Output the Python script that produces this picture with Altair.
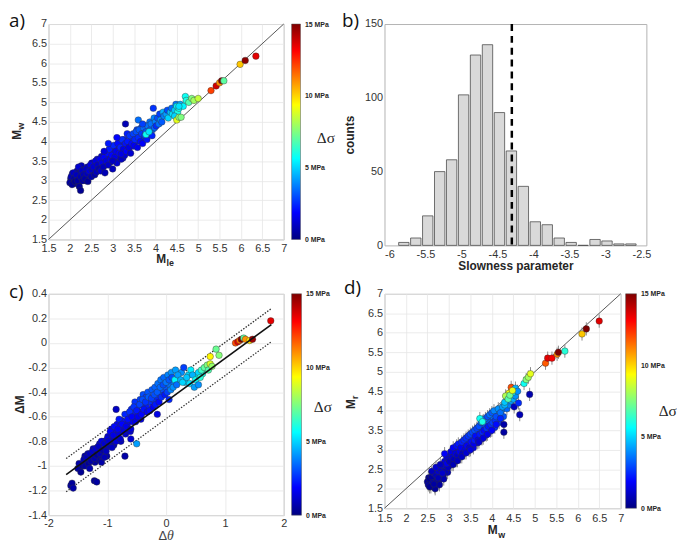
import altair as alt
import pandas as pd

# ---------------- shared style values ----------------
FONT = "Liberation Sans"
JET_DOMAIN = [0, 1.875, 5.625, 9.375, 13.125, 15]
JET_OFFSETS = [0, 0.125, 0.375, 0.625, 0.875, 1]
JET_RANGE = ["#00007f", "#0000ff", "#00ffff", "#ffff00", "#ff0000", "#7f0000"]
cbar_lo, cbar_hi = 0, 15
cbar_ticks = [0, 5, 10, 15]
mag_ticks = [1.5, 2, 2.5, 3, 3.5, 4, 4.5, 5, 5.5, 6, 6.5, 7]
diag = [1.5, 7]

# ---------------- panel a data: M_le vs M_w ----------------
a_mle = [2.02, 2.06, 2.09, 2.13, 2.17, 2.21, 2.24, 2.27, 2.31, 2.34, 2.37, 2.41, 2.44, 2.47, 2.51,
         2.54, 2.57, 2.61, 2.64, 2.67, 2.71, 2.74, 2.77, 2.81, 2.84, 2.87, 2.91, 2.94, 2.97, 3.01,
         3.04, 3.07, 3.11, 3.14, 3.17, 3.21, 3.24, 3.27, 3.31, 3.34, 3.37, 3.41, 3.44, 3.47, 3.51,
         3.54, 3.57, 3.63, 3.67, 3.73, 3.77, 3.83, 3.87, 3.93, 3.97,
         2.00, 2.03, 2.05, 2.08, 2.10, 2.12, 2.15, 2.18, 2.20, 2.22, 2.25, 2.25, 2.28, 2.30, 2.32,
         2.35, 2.38, 2.40, 2.42, 2.45, 2.48, 2.50, 2.52, 2.55, 2.58, 2.60, 2.62, 2.65, 2.68, 2.70,
         2.72, 2.75, 2.78, 2.80, 2.82, 2.85, 2.88, 2.90, 2.92, 2.95, 2.98, 3.00, 3.02, 3.05, 3.08,
         3.10, 3.12, 3.15, 3.18, 3.20, 3.22, 3.25, 3.28, 3.30, 2.80, 2.90, 3.00, 3.10, 3.20, 3.30,
         3.32, 3.35, 3.38, 3.40, 3.42, 3.45, 3.48, 3.50, 3.52, 3.55, 3.58, 3.60, 3.62, 3.65, 3.68,
         3.70, 3.72, 3.75, 3.78, 3.80, 3.82, 3.85, 3.88, 3.90, 3.92, 3.95, 3.98, 4.00, 3.60, 3.70,
         4.02, 4.05, 4.08, 4.10, 4.12, 4.15, 4.18, 4.20, 4.25, 4.28, 4.30, 4.35, 4.38, 4.40, 4.45,
         4.48, 4.50, 4.52, 4.55, 4.58, 3.78, 3.85, 4.45,
         4.50, 4.55, 4.60, 4.65, 4.70, 4.72, 4.78, 4.85, 4.90, 5.00, 4.55,
         5.30, 5.42, 5.50, 5.55, 5.60, 5.98, 6.10, 6.35]
a_mw = [3.05, 3.18, 2.92, 3.08, 3.25, 2.95, 3.20, 3.38, 3.12, 3.28, 3.00, 3.35, 3.15, 3.30, 3.45,
        3.22, 3.40, 3.30, 3.55, 3.42, 3.48, 3.62, 3.52, 3.68, 3.40, 3.58, 3.75, 3.48, 3.82, 3.70,
        3.52, 3.90, 3.78, 3.62, 3.98, 3.88, 3.58, 4.05, 3.85, 4.20, 3.78, 3.98, 4.08, 3.88, 4.12,
        4.00, 4.30, 4.12, 4.35, 4.08, 4.40, 4.18, 4.50, 4.30, 4.60,
        2.95, 3.10, 2.90, 3.20, 3.05, 2.98, 3.15, 3.00, 3.35, 2.85, 2.75, 3.10, 3.25, 3.00, 3.15,
        3.05, 3.30, 3.18, 2.98, 3.25, 3.40, 3.10, 3.28, 3.35, 3.15, 3.50, 3.22, 3.40, 3.30, 3.55,
        3.25, 3.45, 3.35, 3.60, 3.20, 3.50, 3.70, 3.40, 3.80, 3.55, 3.65, 3.30, 3.90, 3.60, 3.75,
        3.45, 3.95, 3.70, 3.85, 3.55, 4.05, 3.80, 3.65, 3.95, 3.75, 3.95, 3.50, 4.10, 3.68, 4.45,
        3.75, 4.00, 3.85, 4.15, 3.70, 3.95, 4.20, 3.90, 4.05, 4.25, 3.85, 4.10, 4.30, 4.00, 4.20,
        3.95, 4.35, 4.15, 4.25, 4.05, 4.40, 4.20, 4.30, 4.45, 4.15, 4.85, 4.35, 4.50, 4.55, 4.45,
        4.40, 4.60, 4.45, 4.70, 4.55, 4.50, 4.75, 4.65, 4.70, 4.80, 4.60, 4.75, 4.85, 4.70, 4.80,
        4.95, 4.90, 4.75, 4.85, 4.95, 4.18, 4.25, 4.65,
        4.55, 4.62, 4.62, 4.90, 5.15, 5.05, 5.00, 5.10, 5.05, 5.10, 4.90,
        5.30, 5.42, 5.50, 5.55, 5.55, 5.97, 6.07, 6.18]
a_ds = [0.4, 0.6, 0.3, 0.5, 0.7, 0.4, 0.6, 0.9, 0.5, 0.8, 0.4, 1.0, 0.6, 0.9, 1.1,
        0.7, 1.2, 0.9, 1.3, 1.0, 1.1, 1.4, 1.2, 1.6, 1.0, 1.5, 1.8, 1.2, 1.9, 1.7,
        1.3, 2.0, 1.8, 1.5, 2.1, 2.0, 1.4, 2.2, 1.9, 2.3, 1.7, 2.4, 2.5, 2.0, 2.6,
        2.3, 2.8, 2.5, 3.0, 2.6, 3.2, 2.9, 3.5, 3.2, 3.8,
        0.5, 0.8, 0.4, 1.0, 0.6, 0.3, 0.9, 0.5, 1.2, 0.4, 0.3, 0.7, 1.0, 0.5, 0.8,
        0.6, 1.1, 0.9, 0.4, 1.3, 1.5, 0.7, 1.0, 1.2, 0.6, 1.4, 0.9, 1.1, 0.8, 1.6,
        1.2, 1.5, 0.9, 1.8, 0.8, 1.4, 2.0, 1.1, 2.2, 1.6, 1.9, 0.9, 2.4, 1.5, 1.7,
        1.2, 2.0, 1.8, 2.3, 1.0, 2.5, 1.6, 1.3, 2.1, 1.4, 2.2, 1.0, 1.9, 1.5, 0.8,
        1.8, 2.2, 1.5, 2.6, 1.2, 2.0, 2.8, 1.7, 2.4, 3.0, 1.6, 2.5, 3.2, 2.0, 2.7,
        1.8, 3.4, 2.6, 3.0, 2.2, 3.5, 2.9, 3.1, 3.6, 2.4, 2.6, 3.3, 3.8, 3.5, 2.8,
        2.5, 3.0, 3.5, 2.8, 4.0, 3.2, 4.5, 3.8, 4.2, 3.0, 5.0, 4.6, 3.5, 5.2, 4.8,
        3.6, 5.5, 6.0, 5.8, 4.4, 5.8, 5.2, 5.0,
        9.0, 7.8, 7.5, 5.5, 5.8, 6.0, 6.8, 7.5, 8.0, 8.5, 5.2,
        12.2, 13.8, 11.0, 15.0, 7.0, 10.2, 14.8, 13.5]

# ---------------- panel b data: histogram ----------------
b_centers = [-5.80, -5.634, -5.468, -5.302, -5.136, -4.97, -4.804, -4.638, -4.472, -4.306,
             -4.14, -3.974, -3.808, -3.642, -3.476, -3.31, -3.144, -2.978, -2.812, -2.646]
b_counts = [2, 5, 20, 50, 58, 102, 129, 136, 90, 64, 40, 16, 14, 5, 2, 0, 4, 3, 1, 1]
b_mean = -4.30
b_xticks = [-6, -5.5, -5, -4.5, -4, -3.5, -3, -2.5]
b_yticks = [0, 50, 100, 150]

# ---------------- panel c data: dtheta vs dM ----------------
c_dt = [-1.50, -1.48, -1.42, -1.38, -1.36, -1.33, -1.27, -1.24, -1.21, -1.17, -1.14, -1.13, -1.09,
        -1.07, -1.04, -1.01, -0.99, -0.97, -0.94, -0.93, -0.91, -0.89, -0.87, -0.84, -0.83, -0.81,
        -0.79, -0.77, -0.76, -0.74, -0.71, -0.69, -0.67, -0.66, -0.63, -0.61, -0.59, -0.57, -0.54,
        -0.53, -0.51, -0.49, -0.47, -0.44, -0.43, -0.41, -0.39, -0.37, -0.34, -0.33, -0.31, -0.27,
        -0.24, -0.21, -0.19, -0.16, -0.14, -0.11, -0.09, -0.06, -0.04, -0.01, 0.03, 0.06, 0.09,
        0.13, 0.16, 0.22, 0.26, 0.32, 0.38, 0.42, 0.52, 0.62,
        -1.62, -1.60, -1.58, -1.45, -1.40, -1.38, -1.35, -1.32, -1.30, -1.28, -1.25, -1.22, -1.20,
        -1.18, -1.15, -1.12, -1.10, -1.08, -1.05, -1.02, -1.00, -1.22, -1.18, -1.30, -1.10, -1.05,
        -0.98, -0.95, -0.92, -0.90, -0.88, -0.85, -0.82, -0.80, -0.78, -0.75, -0.72, -0.70, -0.68,
        -0.65, -0.62, -0.60, -0.58, -0.55, -0.52, -0.50, -0.48, -0.45, -0.42, -0.40, -0.38, -0.35,
        -0.32, -0.30, -0.70, -0.50, -0.85, -0.60,
        -0.28, -0.25, -0.22, -0.20, -0.18, -0.15, -0.12, -0.10, -0.08, -0.05, -0.02, 0.00, 0.02,
        0.05, 0.08, 0.10, 0.12, 0.15, 0.18, 0.20, 0.25, 0.30, 0.28, -0.15, 0.05,
        0.35, 0.40, 0.45, 0.50, 0.55, 0.58, 0.60, 0.65, 0.70, 0.72, 0.75, 0.75, 0.78, 0.85, 0.90,
        0.48, 0.55,
        1.18, 1.22, 1.25, 1.28, 1.32, 1.35, 1.42, 1.47, 1.78]
c_dm = [-1.02, -0.98, -1.00, -0.92, -0.97, -0.90, -0.92, -0.86, -0.97, -0.85, -0.95, -0.82, -0.92,
        -0.80, -0.86, -0.92, -0.76, -0.84, -0.80, -0.70, -0.78, -0.83, -0.72, -0.76, -0.66, -0.74,
        -0.68, -0.80, -0.63, -0.70, -0.64, -0.74, -0.58, -0.66, -0.60, -0.72, -0.54, -0.64, -0.58,
        -0.48, -0.62, -0.52, -0.56, -0.46, -0.62, -0.50, -0.42, -0.56, -0.44, -0.52, -0.40, -0.48,
        -0.38, -0.46, -0.36, -0.44, -0.33, -0.42, -0.30, -0.38, -0.28, -0.36, -0.26, -0.34, -0.24,
        -0.32, -0.22, -0.30, -0.24, -0.32, -0.26, -0.22, -0.26, -0.25,
        -1.16, -1.14, -1.18, -1.05, -0.95, -1.00, -0.93, -0.98, -0.90, -0.96, -0.88, -0.94, -0.86,
        -0.91, -0.84, -0.90, -0.80, -0.87, -0.82, -0.88, -0.78, -1.12, -1.13, -1.02, -0.97, -0.93,
        -0.80, -0.72, -0.85, -0.75, -0.68, -0.80, -0.70, -0.62, -0.78, -0.66, -0.72, -0.58, -0.68,
        -0.62, -0.56, -0.70, -0.60, -0.52, -0.64, -0.55, -0.60, -0.50, -0.58, -0.46, -0.54, -0.48,
        -0.56, -0.44, -0.92, -0.82, -0.54, -0.78,
        -0.55, -0.45, -0.52, -0.42, -0.50, -0.40, -0.48, -0.36, -0.44, -0.34, -0.42, -0.32, -0.40,
        -0.30, -0.38, -0.28, -0.36, -0.30, -0.34, -0.26, -0.30, -0.20, -0.32, -0.58, -0.46,
        -0.28, -0.33, -0.26, -0.30, -0.24, -0.28, -0.22, -0.20, -0.18, -0.22, -0.17, -0.11, -0.19,
        -0.05, -0.10, -0.36, -0.34,
        0.00, 0.01, 0.02, 0.03, 0.04, 0.03, 0.02, 0.03, 0.18]
c_ds = [0.5, 0.6, 0.4, 0.7, 0.5, 0.8, 0.6, 0.9, 0.5, 1.0, 0.6, 1.1, 0.7,
        1.2, 0.9, 0.6, 1.3, 1.0, 1.4, 1.5, 1.1, 0.8, 1.6, 1.2, 1.8, 1.4,
        1.9, 1.0, 2.0, 1.5, 2.1, 1.2, 2.2, 1.6, 2.3, 1.3, 2.4, 1.8, 2.2,
        2.6, 1.7, 2.5, 2.0, 2.8, 1.5, 2.4, 3.0, 1.9, 2.7, 2.2, 3.1, 2.5,
        3.2, 2.6, 3.3, 2.4, 3.5, 2.8, 3.6, 3.0, 3.4, 3.2, 3.8, 3.5, 4.0,
        3.6, 4.2, 4.4, 4.0, 4.6, 5.0, 5.4, 5.6, 6.0,
        0.5, 0.4, 0.6, 0.3, 0.8, 0.5, 0.9, 0.4, 1.0, 0.6, 1.1, 0.7, 1.2,
        0.5, 1.0, 0.8, 1.4, 0.6, 1.2, 0.9, 1.5, 0.4, 0.5, 0.7, 0.6, 0.8,
        1.2, 1.8, 1.0, 1.5, 2.0, 1.3, 1.7, 2.2, 1.1, 1.9, 1.4, 2.4, 1.6,
        2.0, 2.5, 1.3, 1.8, 2.6, 1.5, 2.2, 1.7, 2.8, 1.9, 3.0, 2.1, 2.6,
        1.8, 3.2, 0.6, 4.2, 1.0, 1.2,
        2.0, 2.8, 1.8, 3.0, 2.2, 3.2, 2.0, 3.4, 2.5, 3.0, 2.2, 3.6, 2.8,
        3.2, 3.8, 3.0, 4.0, 5.5, 3.5, 4.2, 4.5, 2.8, 5.0, 1.5, 2.4,
        4.8, 5.2, 4.5, 5.8, 5.0, 6.2, 6.5, 7.0, 7.5, 6.8, 8.8, 9.5, 7.8,
        7.2, 7.6, 4.2, 4.0,
        12.0, 13.5, 11.5, 15.0, 7.0, 11.0, 9.8, 14.5, 13.5]
c_fit_x = [-1.70, 1.79]
c_fit_y = [-1.07, 0.15]
c_upper_y = [-0.94, 0.28]
c_lower_y = [-1.21, 0.01]
c_xticks = [-2, -1, 0, 1, 2]
c_yticks = [-1.4, -1.2, -1.0, -0.8, -0.6, -0.4, -0.2, 0, 0.2, 0.4]

# ---------------- panel d data: M_w vs M_r ----------------
d_mw = [2.53, 2.57, 2.63, 2.67, 2.73, 2.77, 2.83, 2.87, 2.93, 2.97, 3.03, 3.07, 3.13, 3.17, 3.23,
        3.27, 3.33, 3.37, 3.43, 3.47, 3.53, 3.57, 3.63, 3.67, 3.73, 3.77, 3.83, 3.87, 3.93, 3.97,
        4.03, 4.07, 4.13, 4.17, 4.23, 4.27, 4.35, 4.40, 4.45, 4.50, 4.55,
        2.50, 2.52, 2.55, 2.58, 2.60, 2.62, 2.65, 2.68, 2.70, 2.72, 2.75, 2.78, 2.80, 2.82, 2.85,
        2.88, 2.90, 2.92, 2.95, 2.98, 2.55, 2.65, 2.75, 2.85, 2.95, 2.60, 2.70, 2.80, 2.90, 3.00,
        3.02, 3.05, 3.08, 3.10, 3.12, 3.15, 3.18, 3.20, 3.22, 3.25, 3.28, 3.30, 3.32, 3.35, 3.38,
        3.40, 3.42, 3.45, 3.48, 3.50, 3.52, 3.55, 3.58, 3.60, 3.10, 3.20, 3.30, 3.40, 3.50, 3.60,
        3.62, 3.65, 3.68, 3.70, 3.72, 3.75, 3.78, 3.80, 3.82, 3.85, 3.88, 3.90, 3.92, 3.95, 3.98,
        4.00, 4.02, 4.05, 4.08, 4.10, 4.15, 4.20, 4.25, 4.30, 3.70, 3.80, 3.90, 4.00, 4.10, 4.20,
        4.28, 4.28, 4.65, 4.88, 4.52, 4.62,
        3.72, 3.78, 4.30, 4.35, 4.40, 4.45, 4.50, 4.55, 4.60, 4.32, 4.38, 4.42, 4.48, 4.75, 4.80,
        4.85, 4.90, 5.70,
        5.25, 5.30, 5.40, 5.52, 5.55, 6.10, 6.20, 6.50]
d_mr = [2.28, 2.12, 2.28, 2.05, 2.38, 2.22, 2.52, 2.35, 2.62, 2.42, 2.85, 2.62, 2.95, 2.72, 3.05,
        2.82, 3.12, 2.92, 3.22, 2.98, 3.30, 3.05, 3.45, 3.18, 3.52, 3.28, 3.62, 3.38, 3.72, 3.48,
        3.82, 3.58, 3.92, 3.70, 4.02, 3.85, 4.05, 4.15, 4.25, 4.30, 4.38,
        2.18, 2.10, 2.25, 2.05, 2.30, 2.15, 2.40, 2.00, 2.35, 2.20, 2.45, 2.10, 2.50, 2.30, 2.60,
        2.25, 2.70, 2.45, 2.80, 2.55, 2.05, 2.12, 2.28, 2.40, 2.65, 2.45, 2.55, 2.62, 2.90, 2.75,
        2.70, 2.95, 2.80, 3.05, 2.75, 2.90, 3.10, 2.85, 3.15, 2.95, 3.05, 3.20, 2.90, 3.25, 3.00,
        3.30, 3.10, 3.35, 3.05, 3.40, 3.20, 3.45, 3.15, 3.50, 2.62, 2.72, 2.82, 2.92, 3.00, 3.25,
        3.35, 3.55, 3.25, 3.60, 3.40, 3.70, 3.45, 3.75, 3.50, 3.80, 3.55, 3.85, 3.60, 3.90, 3.65,
        3.95, 3.70, 4.00, 3.75, 3.85, 4.05, 3.95, 4.10, 4.15, 3.20, 3.30, 3.40, 3.50, 3.65, 3.80,
        3.45, 3.65, 3.90, 4.42, 4.10, 4.20,
        3.80, 3.72, 4.22, 4.35, 4.45, 4.60, 4.48, 4.58, 4.50, 4.38, 4.30, 4.40, 4.52, 4.70, 4.80,
        4.86, 4.95, 5.53,
        5.22, 5.35, 5.35, 5.45, 5.50, 5.97, 6.10, 6.30]
d_ds = [0.5, 0.4, 0.6, 0.4, 0.8, 0.6, 1.0, 0.7, 1.2, 0.9, 1.4, 1.0, 1.6, 1.1, 1.8,
        1.2, 2.0, 1.4, 2.2, 1.5, 2.4, 1.6, 2.6, 1.8, 2.8, 2.0, 3.0, 2.2, 3.2, 2.4,
        3.4, 2.5, 3.6, 2.7, 3.8, 3.0, 3.4, 3.8, 4.2, 4.4, 4.0,
        0.4, 0.6, 0.3, 0.8, 0.5, 0.7, 1.0, 0.4, 0.9, 0.6, 1.2, 0.5, 1.1, 0.8, 1.3,
        0.7, 1.5, 0.9, 1.4, 1.0, 0.3, 0.5, 0.8, 1.1, 1.6, 0.9, 1.2, 1.0, 1.8, 1.3,
        1.0, 1.5, 1.2, 1.8, 0.9, 1.4, 2.0, 1.1, 2.2, 1.6, 1.7, 2.3, 1.0, 2.4, 1.5,
        2.5, 1.8, 2.6, 1.3, 2.8, 2.0, 2.9, 1.6, 3.0, 0.8, 0.9, 1.0, 1.2, 1.4, 2.2,
        2.0, 2.8, 1.5, 3.0, 2.2, 3.2, 2.4, 3.6, 2.0, 3.4, 2.6, 3.0, 2.2, 3.5, 2.5,
        3.2, 2.8, 3.8, 2.6, 3.0, 4.0, 3.5, 4.2, 4.5, 1.2, 1.4, 1.6, 1.8, 2.0, 2.4,
        0.5, 0.6, 0.8, 0.7, 1.0, 2.5,
        5.8, 6.0, 4.8, 7.5, 9.2, 12.0, 5.5, 4.5, 4.0, 8.2, 6.8, 7.2, 9.0, 5.8, 7.5,
        8.0, 9.0, 6.2,
        11.8, 13.5, 13.2, 11.2, 15.0, 10.2, 15.0, 13.6]
d_err = 0.17

# ---------------- helpers ----------------
one = pd.DataFrame({"k": [0]})
jet = alt.Scale(domain=JET_DOMAIN, range=JET_RANGE, interpolate="rgb")
minus_fix = "replace(datum.label, '\u2212', '-')"


def txt(s, x, y, size=12, weight="bold", align="left", baseline="alphabetic",
        angle=0, font=FONT, style="normal", color="#262626"):
    return alt.Chart(one).mark_text(
        text=s, fontSize=size, fontWeight=weight, align=align, baseline=baseline,
        angle=angle, font=font, fontStyle=style, color=color
    ).encode(x=alt.value(x), y=alt.value(y))


def colorbar(W, H, x0, x1, tx, ty):
    grad = alt.LinearGradient(
        gradient="linear",
        stops=[alt.GradientStop(offset=o, color=c) for o, c in zip(JET_OFFSETS, JET_RANGE)],
        x1=0, x2=0, y1=1, y2=0)
    return alt.Chart(pd.DataFrame({"lo": [cbar_lo], "hi": [cbar_hi]})).mark_rect(
        fill=grad, stroke="#555555", strokeWidth=0.5
    ).encode(
        x=alt.value(W + x0), x2=alt.value(W + x1),
        y=alt.Y("lo:Q", scale=alt.Scale(domain=[cbar_lo, cbar_hi], nice=False),
                axis=alt.Axis(orient="right", offset=x1, values=cbar_ticks,
                              labelExpr="datum.value + ' MPa'", grid=False, ticks=False,
                              domain=False, labelFontSize=7, labelFontWeight="bold",
                              labelPadding=4, labelColor="#262626",
                              title="Δσ", titleAngle=0, titleX=tx, titleY=ty,
                              titleAlign="left", titleBaseline="middle",
                              titleFont="Liberation Serif", titleFontSize=15.5,
                              titleFontWeight="normal", titleColor="#262626")),
        y2="hi:Q")


def qaxis(vals, fmt=".1~f", grid=True, pad=4, title=None, tpad=None):
    kw = dict(values=vals, format=fmt, labelExpr=minus_fix, title=title, grid=grid,
              labelPadding=pad, labelFlush=False)
    if tpad is not None:
        kw["titlePadding"] = tpad
    return alt.Axis(**kw)


# ---------------- panel a ----------------
WA, HA = 238, 218
df_a = pd.DataFrame({"mle": a_mle, "mw": a_mw, "ds": a_ds})
sx = alt.Scale(domain=[1.5, 7], nice=False, zero=False)
sy = alt.Scale(domain=[1.5, 7], nice=False, zero=False)
a_line = alt.Chart(pd.DataFrame({"x": diag, "y": diag})).mark_line(
    color="#555555", strokeWidth=1).encode(
    x=alt.X("x:Q", scale=sx, axis=qaxis(mag_ticks, pad=3)),
    y=alt.Y("y:Q", scale=sy, axis=None))
a_pts = alt.Chart(df_a).mark_circle(size=44, opacity=1, stroke="#333333", strokeWidth=0.4).encode(
    x=alt.X("mle:Q", scale=sx, axis=qaxis(mag_ticks, pad=3)),
    y=alt.Y("mw:Q", scale=sy, axis=alt.Axis(orient="left", values=mag_ticks, format=".1~f",
                                             title=None, grid=True)),
    color=alt.Color("ds:Q", scale=jet, legend=None))
panel_a = alt.layer(
    a_line, a_pts, colorbar(WA, HA, 8, 17, 16, HA / 2 + 6),
    txt("a)", -40, -12, size=19, weight="normal", baseline="top", font="Open Sans", color="#111111"),
    txt("M", WA / 2, HA + 24, align="right"),
    txt("le", WA / 2 + 0.5, HA + 27, size=9),
    txt("M", -28, HA / 2 - 2, angle=270, align="right"),
    txt("w", -25, HA / 2 - 2, size=9, angle=270, align="left"),
).resolve_scale(y="independent").properties(width=WA, height=HA)

# ---------------- panel b ----------------
WB, HB = 265, 224
df_b = pd.DataFrame({"c": b_centers, "n": b_counts})
bx = alt.Scale(domain=[-6, -2.5], nice=False, zero=False)
b_xaxis = qaxis(b_xticks, grid=False, pad=3, title="Slowness parameter", tpad=1)
b_bars = alt.Chart(df_b).mark_bar(orient="vertical", size=10.5, fill="#d9d9d9",
                                   stroke="#4d4d4d", strokeWidth=0.8).encode(
    x=alt.X("c:Q", scale=bx, axis=b_xaxis),
    y=alt.Y("n:Q", scale=alt.Scale(domain=[0, 150], nice=False),
            axis=alt.Axis(values=b_yticks, grid=False, title="counts", titlePadding=8)))
b_rule = alt.Chart(pd.DataFrame({"s": [b_mean]})).mark_rule(
    color="black", strokeWidth=2.5, strokeDash=[7, 5]).encode(
    x=alt.X("s:Q", scale=bx, axis=b_xaxis))
panel_b = alt.layer(
    b_bars, b_rule,
    txt("b)", -43, -12, size=19, weight="normal", baseline="top", font="Open Sans", color="#111111"),
).properties(width=WB, height=HB)

# ---------------- panel c ----------------
WC, HC = 238, 224
df_c = pd.DataFrame({"dt": c_dt, "dm": c_dm, "ds": c_ds})
cx = alt.Scale(domain=[-2, 2], nice=False, zero=False)
cy = alt.Scale(domain=[-1.4, 0.4], nice=False, zero=False)


def c_line(yvals, dash, width, color):
    m = alt.Chart(pd.DataFrame({"x": c_fit_x, "y": yvals}))
    kw = dict(color=color, strokeWidth=width)
    if dash:
        kw["strokeDash"] = dash
    return m.mark_line(**kw).encode(
        x=alt.X("x:Q", scale=cx, axis=qaxis(c_xticks, fmt="d", pad=2)),
        y=alt.Y("y:Q", scale=cy, axis=None))


c_pts = alt.Chart(df_c).mark_circle(size=44, opacity=1, stroke="#333333", strokeWidth=0.4).encode(
    x=alt.X("dt:Q", scale=cx, axis=qaxis(c_xticks, fmt="d", pad=2)),
    y=alt.Y("dm:Q", scale=cy, axis=alt.Axis(orient="left", values=c_yticks, format=".1~f",
                                             labelExpr=minus_fix, title=None, grid=True)),
    color=alt.Color("ds:Q", scale=jet, legend=None))
panel_c = alt.layer(
    c_line(c_upper_y, [1.5, 1.5], 1.3, "#333333"),
    c_line(c_lower_y, [1.5, 1.5], 1.3, "#333333"),
    c_pts,
    c_line(c_fit_y, None, 1.6, "#111111"),
    colorbar(WC, HC, 8, 18, 12, HC / 2 + 2),
    txt("c)", -40, -11, size=19, weight="normal", baseline="top", font="Open Sans", color="#111111"),
    txt("ΔM", -25, HC / 2, angle=270, align="center"),
    txt("Δ", WC / 2 + 1, HC + 25, size=13, weight="normal", align="right", color="#444444"),
    txt("θ", WC / 2 + 1, HC + 25, size=14, weight="normal", align="left", color="#444444",
        font="Liberation Serif", style="italic"),
).resolve_scale(y="independent").properties(width=WC, height=HC)

# ---------------- panel d ----------------
WD, HD = 239, 217
df_d = pd.DataFrame({"mw": d_mw, "mr": d_mr, "ds": d_ds})
df_d["lo"] = df_d["mr"] - d_err
df_d["hi"] = df_d["mr"] + d_err
dx = alt.Scale(domain=[1.5, 7], nice=False, zero=False)
dy = alt.Scale(domain=[1.5, 7], nice=False, zero=False)
d_line = alt.Chart(pd.DataFrame({"x": diag, "y": diag})).mark_line(
    color="#555555", strokeWidth=1).encode(
    x=alt.X("x:Q", scale=dx, axis=qaxis(mag_ticks, pad=4)),
    y=alt.Y("y:Q", scale=dy, axis=None))
d_err_bars = alt.Chart(df_d).mark_rule(color="#8c8c8c", strokeWidth=1).encode(
    x=alt.X("mw:Q", scale=dx, axis=qaxis(mag_ticks, pad=4)),
    y=alt.Y("lo:Q", scale=dy, axis=None), y2="hi:Q")
d_pts = alt.Chart(df_d).mark_circle(size=44, opacity=1, stroke="#333333", strokeWidth=0.4).encode(
    x=alt.X("mw:Q", scale=dx, axis=qaxis(mag_ticks, pad=4)),
    y=alt.Y("mr:Q", scale=dy, axis=alt.Axis(orient="left", values=mag_ticks, format=".1~f",
                                             title=None, grid=True)),
    color=alt.Color("ds:Q", scale=jet, legend=None))
panel_d = alt.layer(
    d_line, d_err_bars, d_pts, colorbar(WD, HD, 5, 16, 22, HD / 2 + 10),
    txt("d)", -41, -15, size=19, weight="normal", baseline="top", font="Open Sans", color="#111111"),
    txt("M", WD / 2 - 5, HD + 26, align="right"),
    txt("w", WD / 2 - 4.5, HD + 30, size=9),
    txt("M", -30, HD / 2 - 2, angle=270, align="right"),
    txt("r", -27, HD / 2 - 2, size=9, angle=270, align="left"),
).resolve_scale(y="independent").properties(width=WD, height=HD)

chart = alt.concat(
    panel_a, panel_b, panel_c, panel_d, columns=2,
    spacing={"row": 49, "column": 102}, bounds="flush"
).configure_view(stroke="#b3b3b3", strokeWidth=1).configure_axis(
    labelFont=FONT, labelFontSize=11, labelColor="#333333", labelOverlap=False,
    labelFlush=False,
    titleFont=FONT, titleFontSize=12, titleFontWeight="bold", titleColor="#262626",
    gridColor="#e6e6e6", gridWidth=0.8, domain=False, ticks=False
).properties(padding=0)

chart.save("out.html", embed_options={"renderer": "svg", "actions": False})
